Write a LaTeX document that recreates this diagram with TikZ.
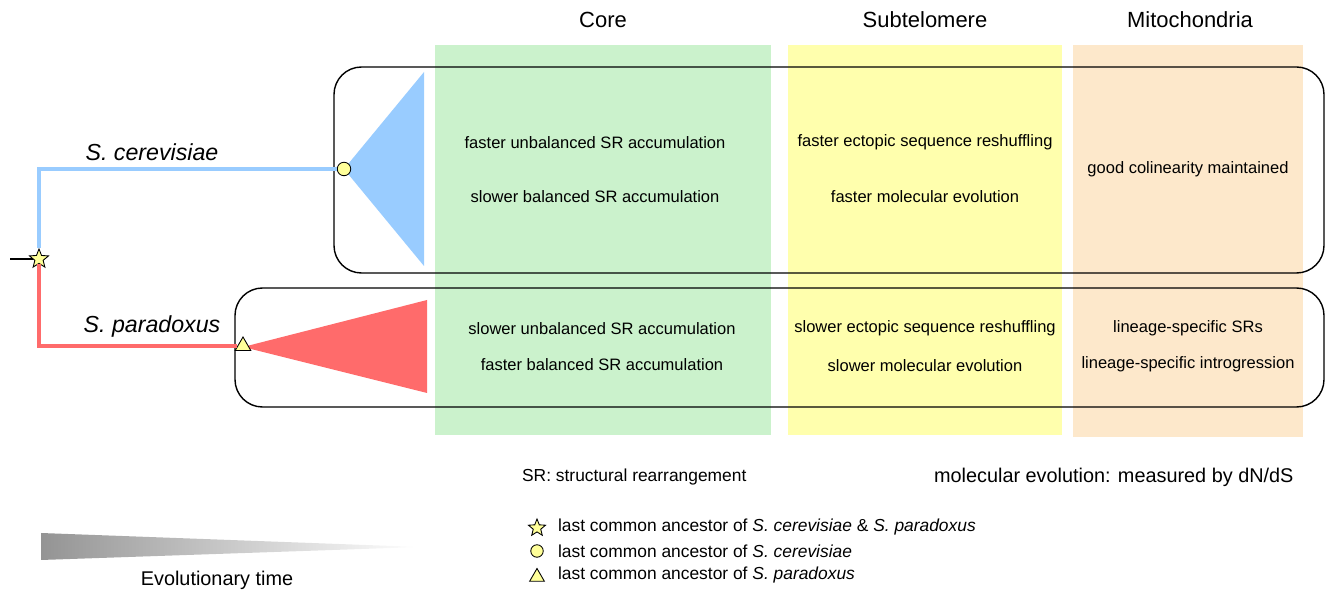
\documentclass[tikz,border=0pt]{standalone}
\usepackage{fontspec}
\setmainfont{Liberation Sans}
\usetikzlibrary{shapes.geometric, positioning, backgrounds}
\definecolor{CoreGreen}{HTML}{CBF2CC}
\definecolor{SubYellow}{HTML}{FFFFAD}
\definecolor{MitoPeach}{HTML}{FDE8CB}
\definecolor{CerBlue}{HTML}{99CCFF}
\definecolor{ParRed}{HTML}{FF6B6B}
\definecolor{MarkYellow}{HTML}{FFFF99}
\newcommand{\BodyFont}{\fontsize{9.4pt}{11pt}\selectfont}
\newcommand{\HeadFont}{\fontsize{12.5pt}{14pt}\selectfont}
\newcommand{\KeyFont}{\fontsize{9.9pt}{12pt}\selectfont}

\begin{document}
\begin{tikzpicture}[x=0.02cm, y=-0.02cm,
  ancstar/.style={star, star points=5, star point ratio=2.3, draw, fill=MarkYellow,
    line width=0.5pt, inner sep=0pt, minimum size=0.4cm},
  ancdot/.style={circle, draw, fill=MarkYellow, line width=0.5pt, inner sep=0pt, minimum size=0.27cm},
  anctri/.style={regular polygon, regular polygon sides=3, draw, fill=MarkYellow,
    line width=0.5pt, inner sep=0pt, minimum size=0.36cm},
  cell/.style={font=\BodyFont, inner sep=1pt},
  head/.style={font=\HeadFont, inner sep=1pt},
  key/.style={font=\KeyFont, anchor=west, inner sep=1pt},
  lineage/.style={line width=1.8pt}]
  \useasboundingbox (0,0) rectangle (1333,597);
  % genome compartments as pale columns
  \fill[CoreGreen]  (435,45) rectangle (771,435);
  \fill[SubYellow]  (788,45) rectangle (1062,435);
  \fill[MitoPeach]  (1073,45) rectangle (1303,437);
  \node[head] (hCore) at (603,20) {Core};
  \node[head] (hSub)  at (925,20) {Subtelomere};
  \node[head] (hMito) at (1190,20) {Mitochondria};
  % clade wedges
  \fill[CerBlue] (344,169) -- (424,72) -- (424,266) -- cycle;
  \fill[ParRed]  (243,347) -- (427,300) -- (427,393) -- cycle;
  % one rounded frame per species
  \draw[line width=0.8pt, rounded corners=0.55cm] (334,67) rectangle (1324,273);
  \draw[line width=0.8pt, rounded corners=0.55cm] (235,288) rectangle (1324,407);
  % tree: root, split, the two lineages
  \coordinate (rootStub) at (10,259);
  \node[ancstar] (anc) at (39,259) {};
  \node[ancdot]  (cerDot) at (344,169) {};
  \node[anctri]  (parTri) at (243,346) {};
  \draw[line width=1.1pt] (rootStub) -- (anc);
  \draw[lineage, CerBlue] (anc) |- (cerDot);
  \draw[lineage, ParRed]  (anc) |- (parTri);
  \node[font=\fontsize{13.2pt}{15pt}\selectfont\itshape] (cerName) at (152,152) {S. cerevisiae};
  \node[font=\fontsize{13.2pt}{15pt}\selectfont\itshape] (parName) at (152,327) {S. paradoxus};
  % what changes where
  \node[cell] (coreCerA) at (595,143) {faster unbalanced SR accumulation};
  \node[cell] (coreCerB) at (595,197) {slower balanced SR accumulation};
  \node[cell] (coreParA) at (602,329) {slower unbalanced SR accumulation};
  \node[cell] (coreParB) at (602,365) {faster balanced SR accumulation};
  \node[cell] (subCerA)  at (925,142) {faster ectopic sequence reshuffling};
  \node[cell] (subCerB)  at (925,197) {faster molecular evolution};
  \node[cell] (subParA)  at (925,328) {slower ectopic sequence reshuffling};
  \node[cell] (subParB)  at (925,366) {slower molecular evolution};
  \node[cell] (mitoCer)  at (1188,169) {good colinearity maintained};
  \node[cell] (mitoParA) at (1188,328) {lineage-specific SRs};
  \node[cell] (mitoParB) at (1188,364) {lineage-specific introgression};
  % footnotes and legend
  \node[key] (noteSR)  at (520,477) {SR: structural rearrangement};
  \node[key, font=\fontsize{11.3pt}{13pt}\selectfont] (noteMol) at (932,477) {molecular evolution: measured by dN/dS};
  \node[ancstar, minimum size=0.36cm] (keyStar) at (537,528) {};
  \node[ancdot, minimum size=0.25cm]  (keyDot)  at (537,551) {};
  \node[anctri, minimum size=0.34cm]  (keyTri)  at (537,577) {};
  \node[key] (keyStarTxt) at (556,527) {last common ancestor of \textit{S. cerevisiae} \& \textit{S. paradoxus}};
  \node[key] (keyDotTxt)  at (556,551) {last common ancestor of \textit{S. cerevisiae}};
  \node[key] (keyTriTxt)  at (556,575) {last common ancestor of \textit{S. paradoxus}};
  % time wedge
  \shade[left color=black!42, right color=white] (41,533) -- (420,547) -- (41,560) -- cycle;
  \node[font=\fontsize{11.3pt}{13pt}\selectfont] (timeLbl) at (217,580) {Evolutionary time};
\end{tikzpicture}
\end{document}
